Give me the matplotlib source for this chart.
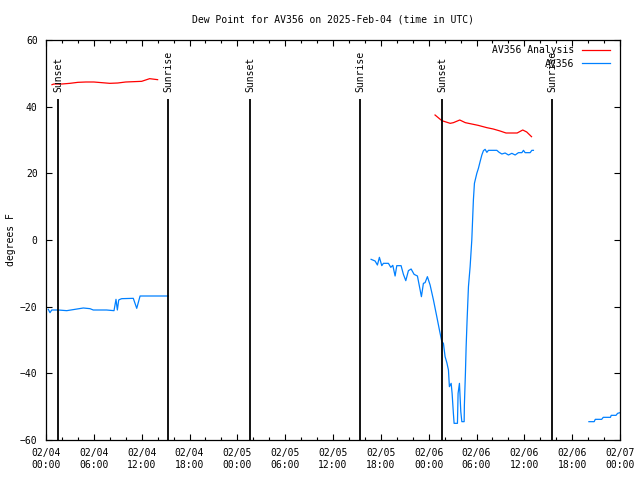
import pandas as pd
import matplotlib
matplotlib.use("Agg")
import matplotlib.pyplot as plt
import matplotlib.dates as mdates

# === DATA (hours after 2025-02-04 00:00 UTC, dew point in F) ================
T0 = pd.Timestamp("2025-02-04 00:00")

# AV356 Analysis (red)
ana1_h = [0.75, 1, 2, 3, 4, 5, 6, 7, 8, 9, 10, 11, 12, 13, 14]
ana1_v = [46.6, 46.8, 46.8, 47.0, 47.3, 47.4, 47.4, 47.2, 47.0, 47.1, 47.4, 47.5, 47.6, 48.4, 48.1]
ana2_h = [48.8, 49.65, 50.7, 51.1, 51.9, 52.6, 53.4, 54.2, 55.3, 56.1, 56.96, 57.7,
          59.1, 59.8, 60.3, 60.9]
ana2_v = [37.5, 35.8, 35.0, 35.2, 36.0, 35.2, 34.8, 34.4, 33.7, 33.3, 32.7, 32.1,
          32.1, 33.0, 32.4, 31.0]

# AV356 observations (blue)
obs1_h = [0.29, 0.5, 0.72, 1.54, 2.6, 4.68, 5.52, 5.93, 7.6, 8.53, 8.78, 8.95, 9.12,
          9.28, 9.5, 10.95, 11.38, 11.8, 15.35]
obs1_v = [-20.8, -21.8, -21.0, -21.0, -21.2, -20.4, -20.6, -21.0, -21.0, -21.2, -17.8,
          -21.0, -18.0, -17.8, -17.6, -17.5, -20.5, -16.8, -16.8]
obs2_h = [40.78, 41.28, 41.57, 41.82, 42.12, 42.32, 42.95, 43.25, 43.50, 43.79, 44.00,
          44.54, 44.83, 45.13, 45.46, 45.80, 46.17, 46.59, 46.93, 47.09, 47.34, 47.55,
          47.84, 48.18, 48.60, 49.02, 49.35, 49.65, 49.85, 50.06, 50.28, 50.48, 50.60,
          50.82, 50.94, 51.10, 51.19, 51.61, 51.69, 51.86, 52.03, 52.16, 52.45, 52.48,
          52.61, 52.70, 52.82, 52.99, 53.20, 53.41, 53.51, 53.61, 53.74, 54.04, 54.24,
          54.45, 54.67, 54.87, 55.08, 55.30, 55.50, 56.55, 56.84, 57.18, 57.59, 58.01,
          58.43, 58.85, 59.26, 59.69, 59.89, 60.10, 60.73, 60.94, 61.14]
obs2_v = [-5.8, -6.3, -7.5, -5.2, -7.7, -7.0, -7.0, -8.2, -7.6, -10.8, -7.7,
          -7.7, -10.3, -12.2, -9.2, -8.7, -10.3, -10.8, -15.0, -17.0, -13.0, -12.8,
          -11.0, -13.5, -18.0, -23.0, -27.0, -30.5, -31.0, -35.0, -36.8, -39.0, -44.0,
          -43.0, -46.0, -52.0, -55.0, -55.0, -46.0, -43.0, -51.5, -54.5, -54.5, -49.5,
          -40.0, -32.0, -24.0, -14.0, -8.0, 0.0, 6.0, 12.0, 17.0, 20.0, 21.5,
          23.5, 25.5, 26.8, 27.2, 26.3, 26.9, 26.9, 26.3, 25.8, 26.1, 25.5,
          26.0, 25.5, 26.2, 26.2, 26.9, 26.2, 26.2, 26.9, 26.9]
obs3_h = [68.1, 68.76, 68.9, 69.7, 69.9, 70.8, 70.9, 71.5, 71.7, 72.0]
obs3_v = [-54.5, -54.5, -53.8, -53.8, -53.2, -53.2, -52.6, -52.6, -52.0, -51.8]

# sunrise / sunset markers
sun_h = [1.5, 15.35, 25.6, 39.4, 49.7, 63.5]
sun_lbl = ["Sunset", "Sunrise", "Sunset", "Sunrise", "Sunset", "Sunrise"]
# ============================================================================


def to_time(hours):
    return [T0 + pd.Timedelta(hours=h) for h in hours]


FONT = "DejaVu Sans Mono"
FS = 7
RED = "#ff0000"
BLUE = "#0080ff"

fig = plt.figure(figsize=(6.4, 4.8), dpi=100)
ax = fig.add_axes([46 / 640, 40 / 480, 574 / 640, 400 / 480])

ax.plot(to_time(ana1_h), ana1_v, color=RED, lw=0.9, label="AV356 Analysis")
ax.plot(to_time(ana2_h), ana2_v, color=RED, lw=0.9)
ax.plot(to_time(obs1_h), obs1_v, color=BLUE, lw=0.9, label="AV356")
ax.plot(to_time(obs2_h), obs2_v, color=BLUE, lw=0.9)
ax.plot(to_time(obs3_h), obs3_v, color=BLUE, lw=0.9)

for t, lbl in zip(to_time(sun_h), sun_lbl):
    ax.vlines(t, -60, 42.3, color="black", lw=1.3)
    ax.text(t, 44.4, lbl, rotation=90, ha="center", va="bottom",
            fontfamily=FONT, fontsize=FS)

ax.set_xlim(T0, T0 + pd.Timedelta(hours=72))
ax.set_ylim(-60, 60)
ax.set_yticks(range(-60, 61, 20))
ax.xaxis.set_major_locator(mdates.HourLocator(byhour=[0, 6, 12, 18]))
ax.xaxis.set_minor_locator(mdates.HourLocator(byhour=range(0, 24, 2)))
ax.xaxis.set_major_formatter(mdates.DateFormatter("%m/%d\n%H:%M"))
ax.tick_params(which="both", direction="in", top=True, right=True,
               labelsize=FS, width=0.8)
ax.tick_params(which="major", length=4.5, pad=6)
ax.tick_params(which="minor", length=2.5)
for lab in ax.get_xticklabels() + ax.get_yticklabels():
    lab.set_fontfamily(FONT)
for s in ax.spines.values():
    s.set_linewidth(0.9)

ax.set_ylabel("degrees F", fontfamily=FONT, fontsize=FS, labelpad=3)
fig.text(0.52, 1 - 20 / 480, "Dew Point for AV356 on 2025-Feb-04 (time in UTC)",
         ha="center", va="center", fontfamily=FONT, fontsize=FS)

ax.legend(loc="upper right", frameon=False, markerfirst=False,
          prop={"family": FONT, "size": FS}, handlelength=2.9,
          labelspacing=0.4, borderpad=0, borderaxespad=0, handletextpad=0.76,
          bbox_to_anchor=(0.9826, 0.9875))

fig.savefig("out.png", dpi=100)
